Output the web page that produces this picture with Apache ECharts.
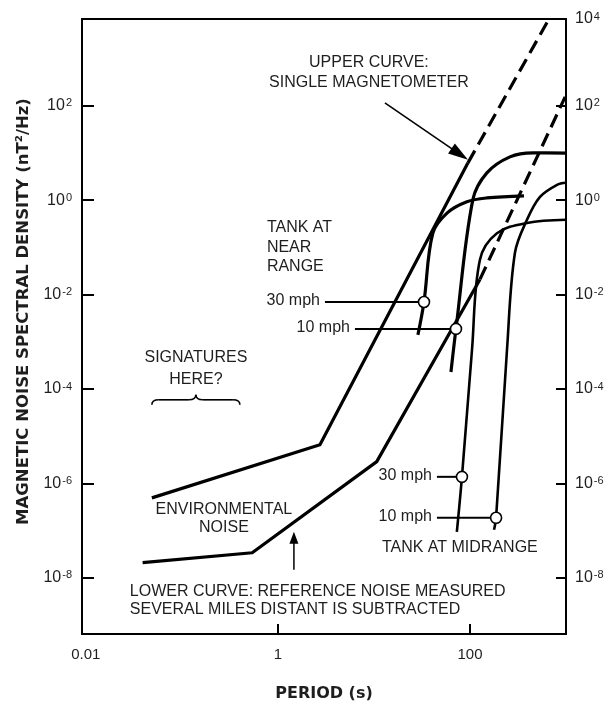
<!DOCTYPE html>
<html><head><meta charset="utf-8">
<script src="https://cdn.jsdelivr.net/npm/echarts@6/dist/echarts.min.js"></script>
<style>html,body{margin:0;padding:0;background:#fff}#c{width:604px;height:701px}</style>
</head><body><div id="c"></div>
<script>
// ---- axis data ----
const xTickLabels = [0.01, 1, 100];
const xTicks = [1, 100];
const yTicks = [1e-8, 1e-6, 1e-4, 1e-2, 1, 1e2];
const xMin = Math.pow(10, -2.04), xMax = 1000;
const yMin = Math.pow(10, -9.19), yMax = Math.pow(10, 3.84);

// ---- curves [period s, PSD nT^2/Hz] ----
const upperSolid = [[0.0487, 4.95e-7], [2.74, 6.6e-6], [95.3, 6.2]];
const upperDashed = [[95.3, 6.2], [665, 6900]];
const lowerSolid = [[0.039, 2.1e-8], [0.54, 3.4e-8], [10.7, 2.9e-6], [127, 0.021]];
const lowerDashed = [[127, 0.021], [980, 155]];

const near30 = [[28.7, 1.4e-3], [33.2, 7.0e-3], [41, 0.2], [58, 0.54], [93, 0.93], [150, 1.12], [365, 1.24]];
const near10 = [[63.4, 2.3e-4], [71.5, 1.88e-3], [107, 1.02], [150, 3.8], [261, 8.3], [453, 10.1], [1000, 10]];
const mid30 = [[73, 9.4e-8], [82.5, 1.38e-6], [105, 6.8e-4], [127, 0.055], [191, 0.2], [392, 0.33], [1000, 0.385]];
const mid10 = [[178, 1.04e-7], [187, 1.87e-7], [243, 6.8e-4], [294, 0.077], [392, 0.385], [536, 1.18], [806, 2.12], [1000, 2.34]];

// connector lines: [label start, circle]
const near30Link = [[3.09, 7.0e-3], [33.2, 7.0e-3]];
const near10Link = [[6.34, 1.88e-3], [71.5, 1.88e-3]];
const mid30Link = [[45.3, 1.38e-6], [82.5, 1.38e-6]];
const mid10Link = [[45.3, 1.87e-7], [187, 1.87e-7]];
const linkLabels = ['30 mph', '10 mph', '30 mph', '10 mph'];

// annotation anchors (data coordinates)
const upperNoteAt = [8.87, 500];
const upperArrowFrom = [13.0, 116], upperArrowTo = [95.3, 7.18];
const nearNoteAt = [0.768, 0.1005];
const midNoteAt = [12.1, 4.32e-8];
const sigNoteAt = [0.14, 2.68e-4];
const braceFrom = [0.0487, 5.36e-5], braceTo = [0.402, 5.36e-5];
const envNoteAt = [0.274, 1.78e-7];
const lowerArrowFrom = [1.468, 1.48e-8], lowerArrowTo = [1.468, 9.44e-8];
const lowerNoteAt = [0.0287, 3.26e-9];

const FONT = '"Liberation Sans", Arial, Helvetica, sans-serif';
const BOLD = '"DejaVu Sans", sans-serif';
const INK = '#1e1e1e';

const rich = {
  b: {fontSize: 16, fontFamily: FONT, color: INK, lineHeight: 16, verticalAlign: 'bottom'},
  e: {fontSize: 11, fontFamily: FONT, color: INK, lineHeight: 11, verticalAlign: 'top', padding: [0, 0, 9, 1]}
};
function supLabel(v, force) {
  const e = force != null ? force : Math.round(Math.log10(v));
  return '{b|10}{e|' + e + '}';
}

const chart = echarts.init(document.getElementById('c'), null, {renderer: 'canvas'});

function curve(data, w, dashed, smooth) {
  return {type: 'line', data: data, symbol: 'none', smooth: smooth || false, silent: true,
    lineStyle: {color: '#000', width: w, type: dashed ? [14, 7] : 'solid', cap: 'butt', join: 'round'},
    z: 3, animation: false};
}

const links = [near30Link, near10Link, mid30Link, mid10Link];
const series = [
  curve(upperSolid, 3.2), curve(upperDashed, 3.2, true),
  curve(lowerSolid, 3.2), curve(lowerDashed, 3.2, true),
  curve(near30, 3.2, false, 0.35), curve(near10, 3.2, false, 0.35),
  curve(mid30, 2.6, false, 0.35), curve(mid10, 2.6, false, 0.35)
];
links.forEach(l => series.push(curve(l, 2)));
series.push({type: 'scatter', data: links.map(l => l[1]), symbol: 'circle', symbolSize: 11, silent: true,
  itemStyle: {color: '#fff', borderColor: '#000', borderWidth: 1.6, opacity: 1}, z: 5, animation: false});

const yAxisBase = {
  type: 'log', min: yMin, max: yMax, splitLine: {show: false}, minorTick: {show: false},
  axisLine: {show: true, lineStyle: {color: '#000', width: 2}},
  axisTick: {show: true, inside: true, length: 12, customValues: yTicks, lineStyle: {color: '#000', width: 2}}
};

chart.setOption({
  animation: false,
  backgroundColor: '#fff',
  grid: {left: 82, right: 38, top: 19, bottom: 67, show: true, borderColor: '#000', borderWidth: 2,
    backgroundColor: 'transparent', containLabel: false, outerBoundsMode: 'none'},
  xAxis: {
    type: 'log', min: xMin, max: xMax, splitLine: {show: false}, minorTick: {show: false},
    axisLine: {lineStyle: {color: '#000', width: 2}},
    axisTick: {inside: true, length: 10, customValues: xTicks, lineStyle: {color: '#000', width: 2}},
    axisLabel: {customValues: xTickLabels, margin: 13, fontSize: 15, fontFamily: FONT, color: INK,
      formatter: v => v < 0.1 ? '0.01' : (v < 10 ? '1' : '100')},
    name: 'PERIOD (s)', nameLocation: 'middle', nameGap: 52,
    nameTextStyle: {fontFamily: BOLD, fontWeight: 'bold', fontSize: 16, color: INK}
  },
  yAxis: [
    Object.assign({}, yAxisBase, {
      position: 'left',
      axisLabel: {customValues: yTicks, margin: 10, formatter: v => supLabel(v), rich: rich},
      name: 'MAGNETIC NOISE SPECTRAL DENSITY (nT²/Hz)', nameLocation: 'middle', nameGap: 50,
      nameTextStyle: {fontFamily: BOLD, fontWeight: 'bold', fontSize: 16.5, color: INK, padding: [0, 0, 0, 30]}
    }),
    Object.assign({}, yAxisBase, {
      position: 'right',
      axisTick: {show: true, inside: true, length: 10, customValues: yTicks, lineStyle: {color: '#000', width: 2}},
      axisLabel: {customValues: yTicks.concat([yMax * 0.999]), margin: 9,
        formatter: v => v > 1e3 ? supLabel(v, 4) : supLabel(v), rich: rich}
    })
  ],
  series: series
});

// ---- annotations anchored to data coordinates ----
const P = d => chart.convertToPixel({gridIndex: 0}, d);
const txtStyle = (text, align, extra) => Object.assign({text: text, fill: INK, fontSize: 16, fontFamily: FONT,
  textAlign: align, textVerticalAlign: 'middle'}, extra || {});
const g = [];
function note(at, text, align, lh) {
  const p = P(at);
  g.push({type: 'text', x: p[0], y: p[1], silent: true, z: 10, style: txtStyle(text, align, {lineHeight: lh || 20})});
}
function arrow(from, to, L, w, lw) {
  const a = P(from), b = P(to);
  const dx = b[0] - a[0], dy = b[1] - a[1], len = Math.hypot(dx, dy);
  const ux = dx / len, uy = dy / len, nx = -uy, ny = ux;
  const bx = b[0] - ux * L, by = b[1] - uy * L;
  g.push({type: 'line', silent: true, z: 10, shape: {x1: a[0], y1: a[1], x2: bx + ux * 2, y2: by + uy * 2},
    style: {stroke: '#000', lineWidth: lw}});
  g.push({type: 'polygon', silent: true, z: 10, shape: {points: [[b[0], b[1]], [bx + nx * w, by + ny * w], [bx - nx * w, by - ny * w]]},
    style: {fill: '#000'}});
}
note(upperNoteAt, 'UPPER CURVE:\nSINGLE MAGNETOMETER', 'center', 20);
arrow(upperArrowFrom, upperArrowTo, 20, 6, 1.6);
note(nearNoteAt, 'TANK AT\nNEAR\nRANGE', 'left', 19.5);
note(midNoteAt, 'TANK AT MIDRANGE', 'left');
note(sigNoteAt, 'SIGNATURES\nHERE?', 'center', 22);
note(envNoteAt, 'ENVIRONMENTAL\nNOISE', 'center', 18);
arrow(lowerArrowFrom, lowerArrowTo, 12, 4.5, 1.5);
note(lowerNoteAt, 'LOWER CURVE: REFERENCE NOISE MEASURED\nSEVERAL MILES DISTANT IS SUBTRACTED', 'left', 18.5);
links.forEach((l, i) => {
  const p = P(l[0]);
  g.push({type: 'text', x: p[0] - 5, y: p[1] - 1, silent: true, z: 10, style: txtStyle(linkLabels[i], 'right')});
});
// brace made of quadratic curves and straight pieces
(function () {
  const a = P(braceFrom), b = P(braceTo);
  const y = a[1], m = (a[0] + b[0]) / 2, r = 7, top = y - 2;
  const st = {stroke: '#000', lineWidth: 1.6, fill: null};
  const bz = (x1, y1, cx, cy, x2, y2) => g.push({type: 'bezierCurve', silent: true, z: 10,
    shape: {x1: x1, y1: y1, cpx1: cx, cpy1: cy, x2: x2, y2: y2}, style: st});
  const ln = (x1, y1, x2, y2) => g.push({type: 'line', silent: true, z: 10, shape: {x1: x1, y1: y1, x2: x2, y2: y2}, style: st});
  bz(a[0], y + 3, a[0], top, a[0] + r, top);
  ln(a[0] + r, top, m - r, top);
  bz(m - r, top, m, top, m, top - 5);
  bz(m, top - 5, m, top, m + r, top);
  ln(m + r, top, b[0] - r, top);
  bz(b[0] - r, top, b[0], top, b[0], y + 3);
})();
chart.setOption({graphic: g});
</script>
</body></html>
